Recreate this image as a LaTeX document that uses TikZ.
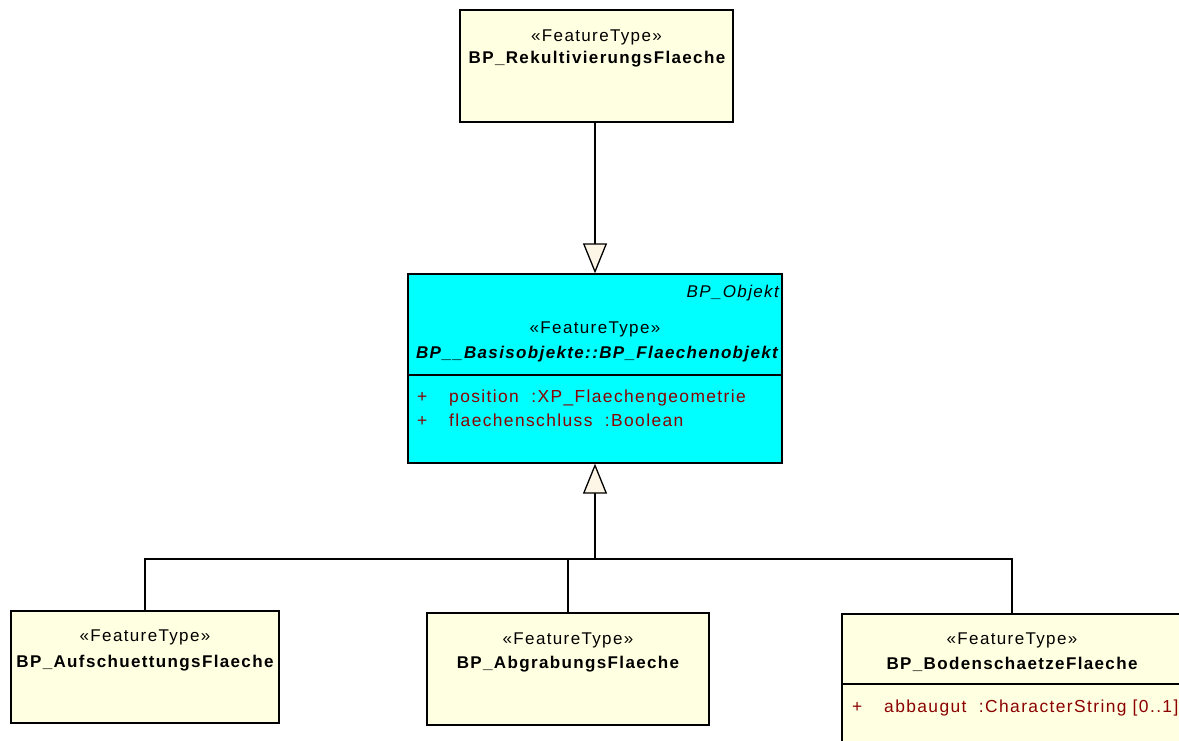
\documentclass[tikz,border=0pt]{standalone}
\usepackage{fontspec}
\newfontfamily\umlfont{Liberation Sans}[LetterSpace=8]
\usetikzlibrary{arrows.meta}
\definecolor{ylw}{RGB}{255,255,225}
\definecolor{cyanfill}{RGB}{0,255,255}
\definecolor{attrred}{RGB}{139,0,0}
\definecolor{tipfill}{RGB}{253,245,230}
\begin{document}
\begin{tikzpicture}[x=1pt,y=-1pt,
  cls/.style={draw=black, line width=1.3pt, inner sep=0pt},
  txt/.style={inner sep=0pt, font=\umlfont\fontsize{17}{20}\selectfont},
  st/.style={txt},
  nm/.style={txt, font=\umlfont\fontsize{17}{20}\selectfont\bfseries},
  attr/.style={txt, text=attrred, anchor=base west, font=\umlfont\fontsize{17.4}{20}\selectfont},
  conn/.style={draw=black, line width=1.3pt},
  gen/.style={conn, -{Triangle[length=30pt, width=24pt, fill=tipfill]}}
]
\clip (0,0) rectangle (1179,740);
\fill[white] (0,0) rectangle (1179,740);

% top class
\node[cls, fill=ylw, minimum width=273pt, minimum height=112pt] (top) at (596.5,66) {};
\node[st] (topst) at (596.5,37) {«FeatureType»};
\node[nm] (topnm) at (597,59) {BP\_RekultivierungsFlaeche};

% middle class
\node[cls, fill=cyanfill, minimum width=374pt, minimum height=189pt] (mid) at (595,368.5) {};
\node[txt, anchor=east, font=\umlfont\fontsize{17}{20}\selectfont\itshape] (midtag) at (779,293) {BP\_Objekt};
\node[st] (midst) at (595,329) {«FeatureType»};
\node[txt, font=\umlfont\fontsize{17}{20}\selectfont\bfseries\itshape] (midnm) at (597,354) {BP\_\_Basisobjekte::BP\_Flaechenobjekt};
\draw[conn] (mid.west |- 0,375) -- (mid.east |- 0,375);
\node[attr] (m1p) at (417,402) {+};
\node[attr] (m1) at (449,402) {position\ \ :XP\_Flaechengeometrie};
\node[attr] (m2p) at (417,426) {+};
\node[attr] (m2) at (449,426) {flaechenschluss\ \ :Boolean};

% bottom classes
\node[cls, fill=ylw, minimum width=268pt, minimum height=112pt] (b1) at (145,667) {};
\node[st] (b1st) at (145,637) {«FeatureType»};
\node[nm] (b1nm) at (145,663) {BP\_AufschuettungsFlaeche};

\node[cls, fill=ylw, minimum width=282pt, minimum height=112pt] (b2) at (568,669) {};
\node[st] (b2st) at (568,640) {«FeatureType»};
\node[nm] (b2nm) at (568,664) {BP\_AbgrabungsFlaeche};

\node[cls, fill=ylw, minimum width=340pt, minimum height=146pt] (b3) at (1012,687) {};
\node[st] (b3st) at (1012,640) {«FeatureType»};
\node[nm] (b3nm) at (1012,664) {BP\_BodenschaetzeFlaeche};
\draw[conn] (b3.west |- 0,684) -- (b3.east |- 0,684);
\node[attr] (b3ap) at (852,712) {+};
\node[attr] (b3a) at (884,712) {abbaugut\ \ :CharacterString [0..1]};

% connectors
\draw[gen] (top.south -| mid.north) -- (mid.north);
\coordinate (join) at (595,559);
\draw[conn] (b1.north) |- (join);
\draw[conn] (b2.north) |- (join);
\draw[conn] (b3.north) |- (join);
\draw[gen] (join) -- (mid.south);
\end{tikzpicture}
\end{document}
